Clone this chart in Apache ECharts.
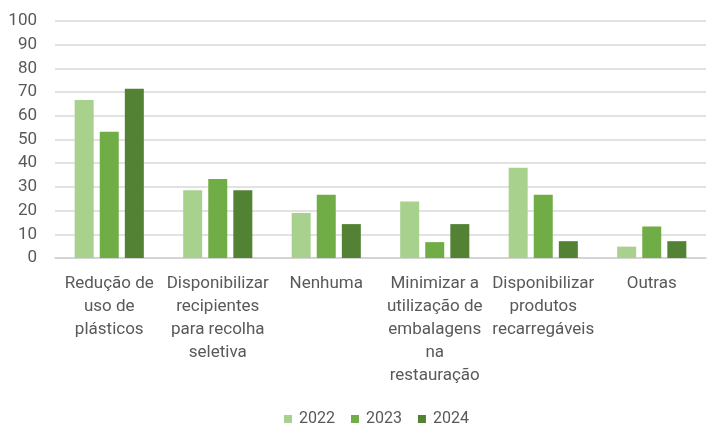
<!DOCTYPE html>
<html>
<head>
<meta charset="utf-8">
<script src="https://cdn.jsdelivr.net/npm/echarts@6/dist/echarts.min.js"></script>
<style>html,body{margin:0;padding:0;background:#fff;}#c{width:707px;height:423px;}</style>
</head>
<body>
<div id="c"></div>
<script>
const categories = [
  "Redução de\nuso de\nplásticos",
  "Disponibilizar\nrecipientes\npara recolha\nseletiva",
  "Nenhuma",
  "Minimizar a\nutilização de\nembalagens\nna\nrestauração",
  "Disponibilizar\nprodutos\nrecarregáveis",
  "Outras"
];
const years = ["2022", "2023", "2024"];
const values2022 = [66.7, 28.6, 19.0, 23.8, 38.1, 4.8];
const values2023 = [53.3, 33.3, 26.7, 6.7, 26.7, 13.3];
const values2024 = [71.4, 28.6, 14.3, 14.3, 7.1, 7.1];
const yTicks = [0, 10, 20, 30, 40, 50, 60, 70, 80, 90, 100];
const colors = ["#a9d18e", "#70ad47", "#548235"];

const FONT = "Roboto, sans-serif";
const chart = echarts.init(document.getElementById('c'), null, {renderer: 'canvas'});
const seriesData = [values2022, values2023, values2024];
chart.setOption({
  animation: false,
  color: colors,
  grid: {left: 55, right: 1, top: 21, bottom: 165, containLabel: false},
  legend: {
    data: years,
    left: 279, top: 406,
    itemWidth: 8, itemHeight: 8, itemGap: 16,
    icon: 'rect',
    textStyle: {color: '#595959', fontSize: 16, fontFamily: FONT, padding: [0, 0, 0, 2]}
  },
  xAxis: {
    type: 'category',
    data: categories,
    axisLine: {lineStyle: {color: '#d0d0d0', width: 1.5}},
    axisTick: {show: false},
    axisLabel: {color: '#595959', fontSize: 17, fontFamily: FONT, lineHeight: 23, margin: 14, interval: 0, align: 'center'}
  },
  yAxis: {
    type: 'value',
    min: yTicks[0], max: yTicks[yTicks.length - 1], interval: 10,
    axisLine: {show: false},
    axisTick: {show: false},
    splitLine: {lineStyle: {color: '#d9d9d9', width: 1.5}},
    axisLabel: {color: '#595959', fontSize: 17, fontFamily: FONT, margin: 18}
  },
  series: years.map((y, i) => ({
    name: y,
    type: 'bar',
    data: seriesData[i],
    barWidth: 19,
    barGap: '32%',
    itemStyle: {color: colors[i]}
  }))
});
</script>
</body>
</html>
